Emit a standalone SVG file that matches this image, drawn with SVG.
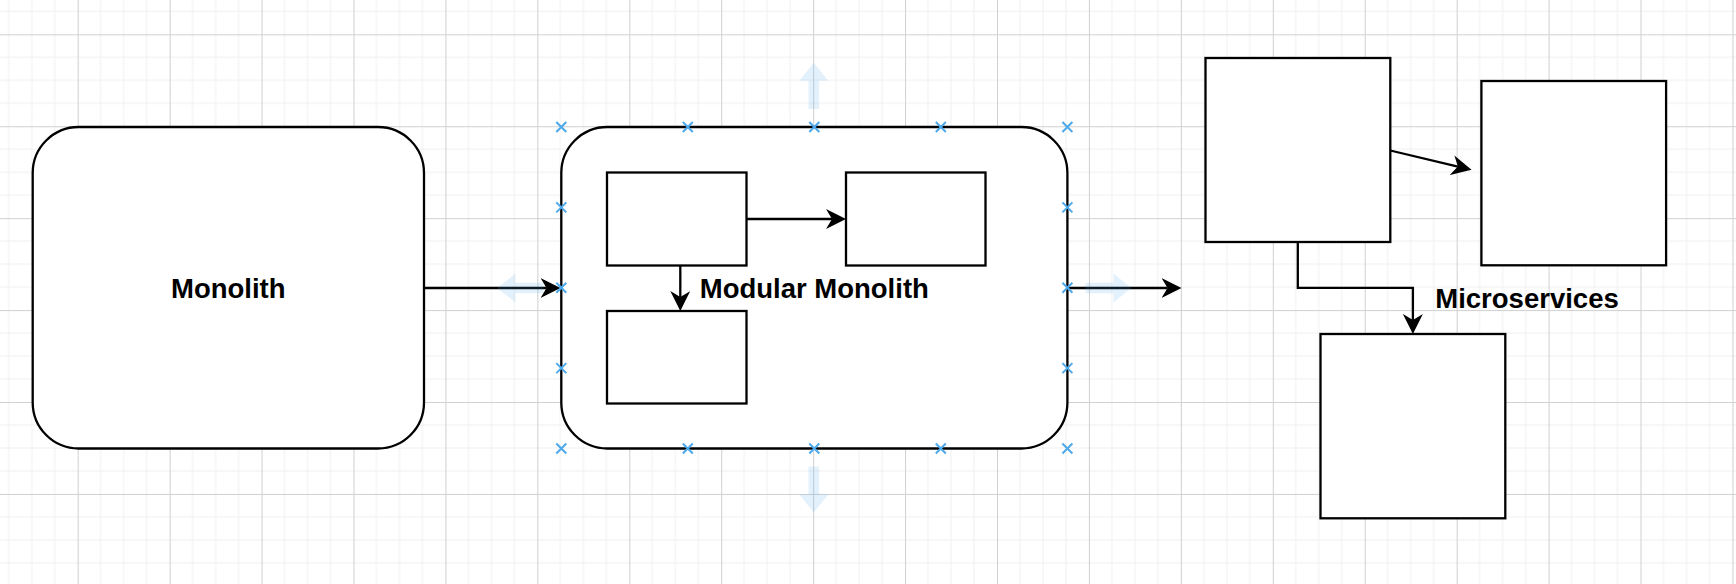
<svg xmlns="http://www.w3.org/2000/svg" width="1736" height="584" viewBox="0 0 1736 584">
<style>
.box{fill:#ffffff;stroke:#000000;stroke-width:2.3}
.edge{fill:none;stroke:#000000;stroke-width:2.3}
.lbl{font-family:"Liberation Sans",Arial,Helvetica,sans-serif;font-weight:bold;font-size:27.5px;fill:#000000;text-anchor:middle}
.pt{stroke:#4ea9ea;stroke-width:2;fill:none}
.hint{fill:#4ea9ea;fill-opacity:0.16}
</style>
<defs>
<pattern id="grid" patternUnits="userSpaceOnUse" x="77.7" y="34.3" width="91.93" height="91.93">
<path d="M22.98 0V91.93M45.97 0V91.93M68.95 0V91.93M0 22.98H91.93M0 45.97H91.93M0 68.95H91.93" stroke="#f0f0f0" stroke-width="1" fill="none"/>
<path d="M0.5 0V91.93M0 0.5H91.93" stroke="#d0d0d0" stroke-width="1" fill="none"/>
</pattern>
<marker id="arr" viewBox="0 0 20 20" refX="6" refY="10" markerWidth="20" markerHeight="20" markerUnits="userSpaceOnUse" orient="auto">
<path d="M0 0L20 10L0 20L6 10Z" fill="#000000"/>
</marker>
</defs>
<rect x="0" y="0" width="1736" height="584" fill="#ffffff"/>
<rect x="0" y="0" width="1736" height="584" fill="url(#grid)"/>

<g id="monolith">
<rect class="box" x="32.7" y="127" width="391.3" height="321.5" rx="46" ry="46"/>
<text class="lbl" x="228.3" y="297.5">Monolith</text>
</g>

<g id="modular-monolith">
<rect class="box" x="561.3" y="127" width="506.1" height="321.5" rx="46" ry="46"/>
<text class="lbl" x="814.3" y="297.5">Modular Monolith</text>
</g>
<g id="module-a"><rect class="box" x="607" y="172.5" width="139.5" height="93"/></g>
<g id="module-b"><rect class="box" x="846" y="172.5" width="139.5" height="93"/></g>
<g id="module-c"><rect class="box" x="607" y="311" width="139.5" height="92.5"/></g>

<g id="microservices">
<text class="lbl" x="1527" y="308">Microservices</text>
</g>
<g id="service-1"><rect class="box" x="1205.5" y="58" width="184.8" height="184"/></g>
<g id="service-2"><rect class="box" x="1481.4" y="81" width="184.7" height="184.3"/></g>
<g id="service-3"><rect class="box" x="1320.5" y="334" width="184.8" height="184.3"/></g>

<g id="connectors">
<path class="edge" d="M424 288H546.5" marker-end="url(#arr)"/>
<path class="edge" d="M746.5 219H832" marker-end="url(#arr)"/>
<path class="edge" d="M680.3 265.5V297" marker-end="url(#arr)"/>
<path class="edge" d="M1067.4 288H1167.5" marker-end="url(#arr)"/>
<path class="edge" d="M1390.3 150.5L1457.9 166.6" marker-end="url(#arr)"/>
<path class="edge" d="M1297.8 242V287.8H1412.9V320" marker-end="url(#arr)"/>
</g>

<g id="selection-hints">
<path class="hint" d="M813.8 62.7L828.3 80.7H819.1V109H808.5V80.7H799.3Z"/>
<path class="hint" d="M813.8 512.5L828.3 494.5H819.1V466.5H808.5V494.5H799.3Z"/>
<path class="hint" d="M497.3 288L515.3 273.5V282.7H543.3V293.3H515.3V302.5Z"/>
<path class="hint" d="M1131.4 288L1113.4 273.5V282.7H1085.4V293.3H1113.4V302.5Z"/>
<g class="pt">
<path d="M556.3 122l10 10m0 -10l-10 10"/>
<path d="M682.8 122l10 10m0 -10l-10 10"/>
<path d="M809.3 122l10 10m0 -10l-10 10"/>
<path d="M935.8 122l10 10m0 -10l-10 10"/>
<path d="M1062.4 122l10 10m0 -10l-10 10"/>
<path d="M556.3 443.5l10 10m0 -10l-10 10"/>
<path d="M682.8 443.5l10 10m0 -10l-10 10"/>
<path d="M809.3 443.5l10 10m0 -10l-10 10"/>
<path d="M935.8 443.5l10 10m0 -10l-10 10"/>
<path d="M1062.4 443.5l10 10m0 -10l-10 10"/>
<path d="M556.3 202.4l10 10m0 -10l-10 10"/>
<path d="M556.3 282.8l10 10m0 -10l-10 10"/>
<path d="M556.3 363.1l10 10m0 -10l-10 10"/>
<path d="M1062.4 202.4l10 10m0 -10l-10 10"/>
<path d="M1062.4 282.8l10 10m0 -10l-10 10"/>
<path d="M1062.4 363.1l10 10m0 -10l-10 10"/>
</g>
</g>
</svg>
